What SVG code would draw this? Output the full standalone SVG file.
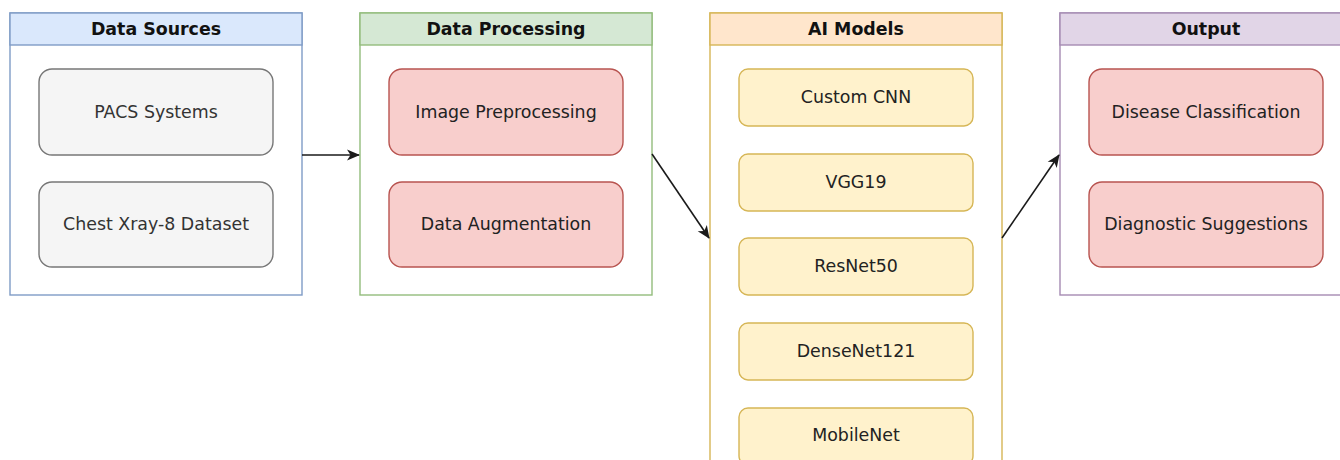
<svg xmlns="http://www.w3.org/2000/svg" width="1340" height="460" viewBox="0 0 1340 460">
  <defs>
    <marker id="arrow" viewBox="0 0 13 13" refX="12" refY="6.5" markerWidth="13" markerHeight="13" markerUnits="userSpaceOnUse" orient="auto">
      <path d="M0,1 L13,6.5 L0,12 L3.5,6.5 Z" fill="#1a1a1a"/>
    </marker>
  </defs>
  <style>
    .frame { fill: #ffffff; stroke-width: 1.4; }
    .hdr-text { font-family: "DejaVu Sans", sans-serif; font-size: 17.4px; font-weight: bold; fill: #111111; text-anchor: middle; }
    .label { font-family: "DejaVu Sans", sans-serif; font-size: 17.4px; text-anchor: middle; fill: #222222; }
    .gray { fill: #f5f5f5; stroke: #777777; stroke-width: 1.4; }
    .red { fill: #f8cecc; stroke: #b85450; stroke-width: 1.4; }
    .yellow { fill: #fff2cc; stroke: #d6b656; stroke-width: 1.4; }
    .edge { fill: none; stroke: #1a1a1a; stroke-width: 1.6; marker-end: url(#arrow); }
  </style>
  <rect width="1340" height="460" fill="#ffffff"/>

  <!-- Data Sources -->
  <g id="data-sources">
    <rect class="frame" x="10" y="13" width="292" height="282" stroke="#7f9cc6"/>
    <rect x="10" y="13" width="292" height="32" fill="#dae8fc" stroke="#7f9cc6" stroke-width="1.4"/>
    <text class="hdr-text" x="156" y="35">Data Sources</text>
  </g>
  <g id="pacs">
    <rect class="gray" x="39" y="69" width="234" height="86" rx="13"/>
    <text class="label" x="156" y="118" style="fill:#333333">PACS Systems</text>
  </g>
  <g id="chest-xray">
    <rect class="gray" x="39" y="182" width="234" height="85" rx="13"/>
    <text class="label" x="156" y="230" style="fill:#333333">Chest Xray-8 Dataset</text>
  </g>

  <!-- Data Processing -->
  <g id="data-processing">
    <rect class="frame" x="360" y="13" width="292" height="282" stroke="#93bd7c"/>
    <rect x="360" y="13" width="292" height="32" fill="#d5e8d4" stroke="#93bd7c" stroke-width="1.4"/>
    <text class="hdr-text" x="506" y="35">Data Processing</text>
  </g>
  <g id="preprocessing">
    <rect class="red" x="389" y="69" width="234" height="86" rx="13"/>
    <text class="label" x="506" y="118">Image Preprocessing</text>
  </g>
  <g id="augmentation">
    <rect class="red" x="389" y="182" width="234" height="85" rx="13"/>
    <text class="label" x="506" y="230">Data Augmentation</text>
  </g>

  <!-- AI Models -->
  <g id="ai-models">
    <rect class="frame" x="710" y="13" width="292" height="470" stroke="#d6b656"/>
    <rect x="710" y="13" width="292" height="32" fill="#ffe6cc" stroke="#d6b656" stroke-width="1.4"/>
    <text class="hdr-text" x="856" y="35">AI Models</text>
  </g>
  <g id="custom-cnn">
    <rect class="yellow" x="739" y="69" width="234" height="57" rx="9"/>
    <text class="label" x="856" y="103">Custom CNN</text>
  </g>
  <g id="vgg19">
    <rect class="yellow" x="739" y="154" width="234" height="57" rx="9"/>
    <text class="label" x="856" y="188">VGG19</text>
  </g>
  <g id="resnet50">
    <rect class="yellow" x="739" y="238" width="234" height="57" rx="9"/>
    <text class="label" x="856" y="272">ResNet50</text>
  </g>
  <g id="densenet121">
    <rect class="yellow" x="739" y="323" width="234" height="57" rx="9"/>
    <text class="label" x="856" y="357">DenseNet121</text>
  </g>
  <g id="mobilenet">
    <rect class="yellow" x="739" y="408" width="234" height="57" rx="9"/>
    <text class="label" x="856" y="441">MobileNet</text>
  </g>

  <!-- Output -->
  <g id="output">
    <rect class="frame" x="1060" y="13" width="292" height="282" stroke="#a58bb3"/>
    <rect x="1060" y="13" width="292" height="32" fill="#e1d5e7" stroke="#a58bb3" stroke-width="1.4"/>
    <text class="hdr-text" x="1206" y="35">Output</text>
  </g>
  <g id="classification">
    <rect class="red" x="1089" y="69" width="234" height="86" rx="13"/>
    <text class="label" x="1206" y="118">Disease Classification</text>
  </g>
  <g id="suggestions">
    <rect class="red" x="1089" y="182" width="234" height="85" rx="13"/>
    <text class="label" x="1206" y="230">Diagnostic Suggestions</text>
  </g>

  <!-- Connectors between stages -->
  <g id="connectors">
    <path class="edge" d="M302,155 L359,155"/>
    <path class="edge" d="M652,154 L709,238"/>
    <path class="edge" d="M1002,238 L1059,155"/>
  </g>
</svg>
